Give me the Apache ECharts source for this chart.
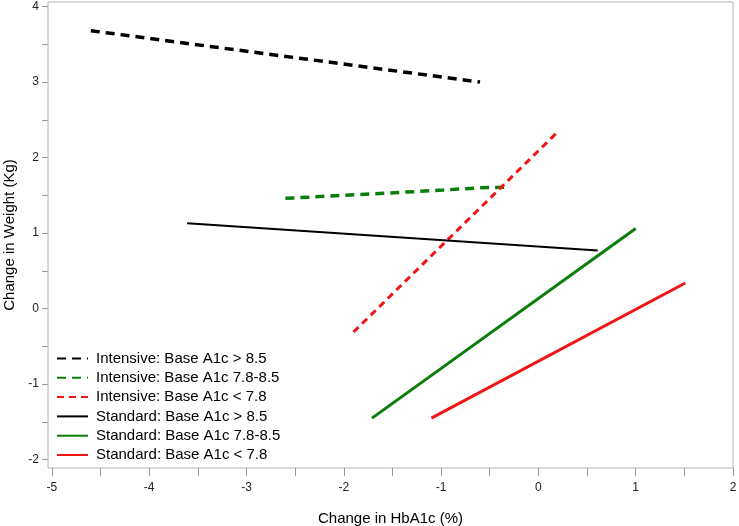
<!DOCTYPE html>
<html>
<head>
<meta charset="utf-8">
<script src="https://cdn.jsdelivr.net/npm/echarts@6/dist/echarts.min.js"></script>
<style>
  html, body { margin: 0; padding: 0; background: #fff; }
  #main { width: 739px; height: 526px; }
</style>
</head>
<body>
<div id="main"></div>
<script>
// series values (x = change in HbA1c, y = change in weight)
var intHighX = [-4.6, -0.6];
var intHighY = [3.68, 3.0];
var intMidX = [-2.6, -1.55, -0.98, -0.6, -0.29];
var intMidY = [1.46, 1.53, 1.57, 1.6, 1.61];
var intLowX = [-1.9, 0.19];
var intLowY = [-0.31, 2.33];
var stdHighX = [-3.61, 0.61];
var stdHighY = [1.13, 0.77];
var stdMidX = [-1.71, 1.0];
var stdMidY = [-1.45, 1.06];
var stdLowX = [-1.1, 1.51];
var stdLowY = [-1.45, 0.34];

var seriesNames = [
    'Intensive: Base A1c > 8.5',
    'Intensive: Base A1c 7.8-8.5',
    'Intensive: Base A1c < 7.8',
    'Standard: Base A1c > 8.5',
    'Standard: Base A1c 7.8-8.5',
    'Standard: Base A1c < 7.8'
];

// axis extents (frame is a bit wider than the tick range) and ticks
var xRange = [-5.04, 2.0];
var yRange = [-2.11, 4.06];
var xLabels = [-5, -4, -3, -2, -1, 0, 1, 2];
var xTicks = [-5, -4.5, -4, -3.5, -3, -2.5, -2, -1.5, -1, -0.5, 0, 0.5, 1, 1.5, 2];
var yLabels = [-2, -1, 0, 1, 2, 3, 4];
var yTicks = [-2, -1.5, -1, -0.5, 0, 0.5, 1, 1.5, 2, 2.5, 3, 3.5, 4];

function pairs(xs, ys){
    var arr = [];
    for(var i=0,l=xs.length;i<l;i++){
        arr.push([xs[i], ys[i]]);
    }
    return arr;
}

function mkLine(name, xs, ys, color, width, dash){
    return {
        name: name,
        type: 'line',
        data: pairs(xs, ys),
        showSymbol: false,
        symbol: 'none',
        smooth: false,
        silent: true,
        lineStyle: {
            color: color,
            width: width,
            type: dash || 'solid'
        },
        itemStyle: { color: color }
    };
}

var myChart = echarts.init(document.getElementById('main'));
var fontFam = '"Liberation Sans", Arial, sans-serif';

var option = {
    backgroundColor: '#fff',
    animation: false,
    textStyle: { fontFamily: fontFam },
    grid: {
        left: 48,
        right: 6,
        top: 2,
        bottom: 58,
        containLabel: false,
        outerBoundsMode: 'none',
        show: true,
        borderColor: '#b4b4b4',
        borderWidth: 1,
        backgroundColor: 'transparent'
    },
    legend: {
        orient: 'vertical',
        left: 56,
        top: 351,
        padding: 0,
        itemWidth: 31,
        itemHeight: 14,
        itemGap: 4.3,
        selectedMode: false,
        itemStyle: { opacity: 0 },
        textStyle: {
            fontFamily: fontFam,
            fontSize: 15,
            color: '#000',
            padding: [0, 0, 0, 3]
        },
        data: seriesNames
    },
    xAxis: {
        type: 'value',
        min: xRange[0],
        max: xRange[1],
        name: 'Change in HbA1c (%)',
        nameLocation: 'middle',
        nameGap: 43,
        nameTextStyle: { fontSize: 15, color: '#000', fontFamily: fontFam },
        axisLine: { show: false, onZero: false },
        axisTick: { show: true, length: 8, customValues: xTicks, lineStyle: { color: '#999' } },
        splitLine: { show: false },
        axisLabel: {
            customValues: xLabels,
            margin: 14,
            fontSize: 12,
            color: '#222'
        }
    },
    yAxis: {
        type: 'value',
        min: yRange[0],
        max: yRange[1],
        name: 'Change in Weight (Kg)',
        nameLocation: 'middle',
        nameGap: 28,
        nameTextStyle: { fontSize: 15, color: '#000', fontFamily: fontFam },
        axisLine: { show: false, onZero: false },
        axisTick: { show: true, length: 6, customValues: yTicks, lineStyle: { color: '#999' } },
        splitLine: { show: false },
        axisLabel: {
            customValues: yLabels,
            margin: 9,
            fontSize: 12,
            color: '#222'
        }
    },
    series: [
        mkLine(seriesNames[0], intHighX, intHighY, '#000000', 3.5, [9, 6]),
        mkLine(seriesNames[1], intMidX, intMidY, '#0a7d0a', 3.5, [9, 6]),
        mkLine(seriesNames[2], intLowX, intLowY, '#f01515', 3, [7, 5]),
        mkLine(seriesNames[3], stdHighX, stdHighY, '#000000', 2),
        mkLine(seriesNames[4], stdMidX, stdMidY, '#0a7d0a', 3),
        mkLine(seriesNames[5], stdLowX, stdLowY, '#f01515', 3)
    ]
};

myChart.setOption(option);
</script>
</body>
</html>
